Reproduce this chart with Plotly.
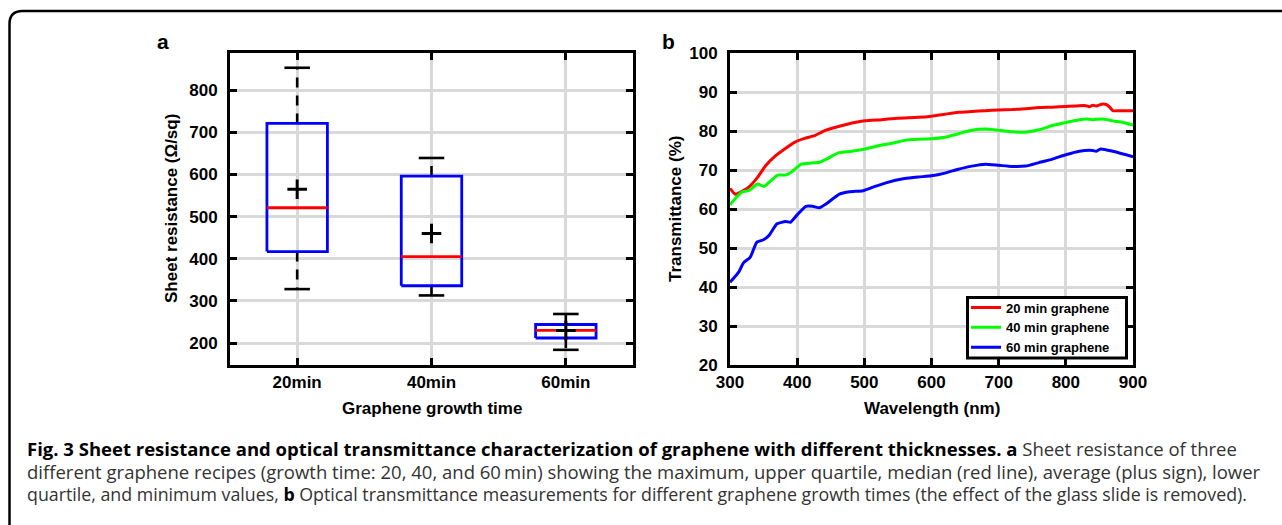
import plotly.graph_objects as go

# ---------------- data ----------------
categories = ["20min", "40min", "60min"]
max_vals = [853, 639, 269]
q3_vals = [721, 596, 244]
median_vals = [521, 405, 230]
mean_vals = [565, 460, 230]
q1_vals = [417, 336, 212]
min_vals = [328, 313, 184]

wl_20 = [300, 308, 320, 328, 341, 353, 368, 383, 396, 411, 426, 441, 456, 476, 501, 526, 550, 580, 600,
         620, 640, 660, 680, 700, 720, 740, 760, 780, 800, 820, 830, 835, 840, 845, 850, 855, 860, 865,
         870, 880, 900]
t_20 = [65.3, 63.8, 64.7, 65.6, 68.1, 71.1, 73.7, 75.6, 77.1, 78.1, 78.8, 80.1, 80.9, 81.8, 82.6, 82.9,
        83.3, 83.5, 83.8, 84.3, 84.8, 85.0, 85.2, 85.4, 85.5, 85.7, 86.0, 86.1, 86.3, 86.5, 86.5, 86.2,
        86.6, 86.4, 86.7, 86.9, 86.8, 86.2, 85.2, 85.2, 85.2]

wl_40 = [300, 308, 318, 328, 341, 351, 358, 371, 383, 391, 406, 421, 433, 446, 461, 481, 501, 526, 540,
         560, 580, 600, 620, 640, 660, 680, 700, 720, 740, 760, 780, 800, 820, 830, 840, 855, 870, 890, 900]
t_40 = [61.1, 62.7, 64.4, 64.7, 66.4, 65.8, 66.8, 68.7, 68.7, 69.4, 71.5, 71.8, 72.0, 73.0, 74.4, 74.8,
        75.4, 76.4, 76.8, 77.6, 77.9, 78.0, 78.4, 79.3, 80.2, 80.5, 80.2, 79.8, 79.7, 80.3, 81.4, 82.2,
        82.9, 83.1, 82.9, 83.1, 82.6, 82.0, 81.5]

wl_60 = [300, 313, 320, 330, 340, 350, 358, 370, 383, 390, 400, 413, 423, 433, 443, 463, 478, 498, 513,
         532, 560, 580, 600, 620, 640, 660, 680, 700, 720, 740, 760, 780, 800, 820, 840, 845, 852, 870, 900]
t_60 = [41.2, 43.8, 46.2, 47.6, 51.5, 52.1, 53.2, 56.2, 56.8, 56.6, 58.5, 60.7, 60.7, 60.3, 61.3, 63.8,
        64.4, 64.7, 65.6, 66.7, 67.8, 68.2, 68.5, 69.2, 70.2, 71.0, 71.5, 71.2, 70.9, 71.0, 71.9, 72.8,
        73.9, 74.8, 75.0, 74.8, 75.4, 74.8, 73.4]

series_names = ["20 min graphene", "40 min graphene", "60 min graphene"]
series_colors = ["#ff0000", "#00ff00", "#0000ff"]

# ---------------- figure ----------------
W, H = 1282, 525
def px(x):
    return x / W
def py(y):
    return 1 - y / H

FONT = "Liberation Sans"
tick_font = dict(family=FONT, size=17, color="black", weight="bold")

fig = go.Figure()

BOX_HALF = 0.225
CAP_HALF = 0.095

# Panel a: box plots drawn from the statistics
for i, cat in enumerate(categories):
    xc = i + 1
    fig.add_trace(go.Scatter(x=[xc, xc, None, xc, xc], y=[q3_vals[i], max_vals[i], None, q1_vals[i], min_vals[i]],
                             mode="lines", line=dict(color="black", width=2.6, dash="10px,8px"),
                             showlegend=False, xaxis="x", yaxis="y", hoverinfo="skip"))
    fig.add_trace(go.Scatter(x=[xc - CAP_HALF, xc + CAP_HALF, None, xc - CAP_HALF, xc + CAP_HALF],
                             y=[max_vals[i], max_vals[i], None, min_vals[i], min_vals[i]],
                             mode="lines", line=dict(color="black", width=2.6),
                             showlegend=False, xaxis="x", yaxis="y", hoverinfo="skip"))
    fig.add_trace(go.Scatter(x=[xc - BOX_HALF, xc + BOX_HALF, xc + BOX_HALF, xc - BOX_HALF, xc - BOX_HALF],
                             y=[q1_vals[i], q1_vals[i], q3_vals[i], q3_vals[i], q1_vals[i]],
                             mode="lines", line=dict(color="#0000ff", width=2.8),
                             showlegend=False, xaxis="x", yaxis="y", hoverinfo="skip"))
    fig.add_trace(go.Scatter(x=[xc - BOX_HALF, xc + BOX_HALF], y=[median_vals[i], median_vals[i]],
                             mode="lines", line=dict(color="#ff0000", width=2.8),
                             showlegend=False, xaxis="x", yaxis="y", hoverinfo="skip"))

fig.add_trace(go.Scatter(x=[1, 2, 3], y=mean_vals, mode="markers",
                         marker=dict(symbol="cross-thin", size=14, line=dict(color="black", width=3)),
                         showlegend=False, xaxis="x", yaxis="y", hoverinfo="skip"))

# Panel b: transmittance curves
for wl, t, name, col in zip([wl_20, wl_40, wl_60], [t_20, t_40, t_60], series_names, series_colors):
    fig.add_trace(go.Scatter(x=wl, y=t, mode="lines", name=name,
                             line=dict(color=col, width=3, shape="spline", smoothing=0.5),
                             xaxis="x2", yaxis="y2"))

axis_common = dict(showline=True, linecolor="black", linewidth=3, mirror="ticks",
                   ticks="inside", ticklen=7, tickwidth=3, tickcolor="black",
                   showgrid=True, gridcolor="#d9d9d9", gridwidth=3, zeroline=False,
                   tickfont=tick_font, automargin=False)

ydom = [py(365), py(53)]
fig.update_layout(
    width=W, height=H, margin=dict(l=0, r=0, t=0, b=0, pad=0, autoexpand=False),
    paper_bgcolor="white", plot_bgcolor="white",
    xaxis=dict(domain=[px(230), px(633)], range=[0.5, 3.5], tickvals=[1, 2, 3], ticktext=categories,
               anchor="y", ticklabelstandoff=0, **axis_common),
    yaxis=dict(domain=ydom, range=[148, 888], tickvals=[200, 300, 400, 500, 600, 700, 800],
               anchor="x", ticklabelstandoff=6, **axis_common),
    xaxis2=dict(domain=[px(730), px(1133)], range=[300, 900], dtick=100, anchor="y2",
                ticklabelstandoff=0, **axis_common),
    yaxis2=dict(domain=ydom, range=[20, 100], dtick=10, anchor="x2", ticklabelstandoff=6, **axis_common),
    showlegend=True,
    legend=dict(x=px(966), xanchor="left", y=py(327.5), yanchor="middle",
                bgcolor="rgba(0,0,0,0)", borderwidth=0,
                font=dict(family=FONT, size=13, color="black", weight="bold"),
                itemwidth=30, tracegroupgap=0),
)

# legend frame (white box with black border behind the legend entries)
fig.add_shape(type="rect", xref="paper", yref="paper",
              x0=px(967.5), x1=px(1126.5), y0=py(358), y1=py(297.5),
              fillcolor="white", line=dict(color="black", width=3), layer="above")

annots = [
    dict(text="a", x=px(163), y=py(42), font=dict(size=21, weight="bold")),
    dict(text="b", x=px(668), y=py(41), font=dict(size=21, weight="bold")),
    dict(text="Graphene growth time", x=px(431.5), y=py(408), font=dict(size=17, weight="bold")),
    dict(text="Wavelength (nm)", x=px(931.5), y=py(408), font=dict(size=17, weight="bold")),
    dict(text="Sheet resistance (Ω/sq)", x=px(172), y=py(209), textangle=-90, font=dict(size=17, weight="bold")),
    dict(text="Transmittance (%)", x=px(676), y=py(209), textangle=-90, font=dict(size=17, weight="bold")),
]
for a in annots:
    a["font"] = dict(family=FONT, color="black", **a["font"])
    fig.add_annotation(xref="paper", yref="paper", showarrow=False, xanchor="center", yanchor="middle", **a)

cap_sizes = [18.5, 18.5, 17.8]
cap_lines = [
    "<span style='color:#000000'><b>Fig. 3 Sheet resistance and optical transmittance characterization of graphene with different thicknesses. a</b></span> Sheet resistance of three",
    "different graphene recipes (growth time: 20, 40, and 60\u2009min) showing the maximum, upper quartile, median (red line), average (plus sign), lower",
    "quartile, and minimum values, <span style='color:#000000'><b>b</b></span> Optical transmittance measurements for different graphene growth times (the effect of the glass slide is removed).",
]
for k, line in enumerate(cap_lines):
    fig.add_annotation(xref="paper", yref="paper", showarrow=False, xanchor="left", yanchor="middle",
                       x=px(25), y=py(448 + 23 * k), text=line,
                       font=dict(family="Open Sans", size=cap_sizes[k], color="#333333"), align="left")

frame_path = (f"M {px(9.5)},{py(540)} L {px(9.5)},{py(24)} "
              f"Q {px(9.5)},{py(11)} {px(22.5)},{py(11)} L {px(1300)},{py(11)}")
fig.add_shape(type="path", path=frame_path, xref="paper", yref="paper",
              line=dict(color="black", width=2.5))

fig.write_html("out.html", config={"displayModeBar": False},
               post_script="document.body.style.margin='0';document.body.style.overflow='hidden';")
